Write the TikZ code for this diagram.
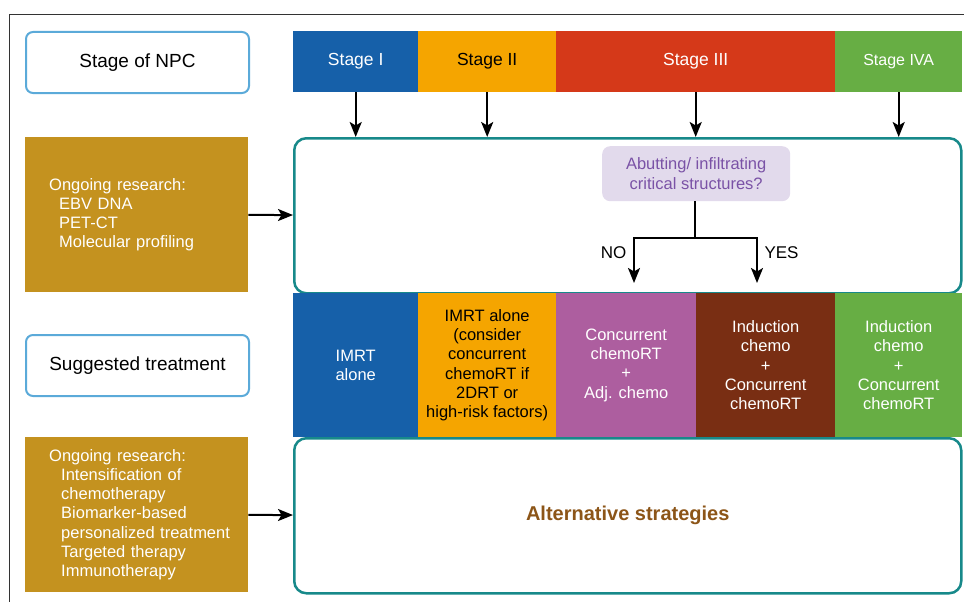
\documentclass[tikz,border=0pt]{standalone}
\usepackage{fontspec}
\setmainfont{Liberation Sans}
\setsansfont{Liberation Sans}
\usetikzlibrary{arrows.meta,positioning}

\definecolor{stageone}{HTML}{1660A9}
\definecolor{stagetwo}{HTML}{F5A500}
\definecolor{stagethree}{HTML}{D53919}
\definecolor{stagefour}{HTML}{67AE44}
\definecolor{adjpurple}{HTML}{AD5E9F}
\definecolor{inducbrown}{HTML}{792E13}
\definecolor{research}{HTML}{C4921F}
\definecolor{teal}{HTML}{17898A}
\definecolor{skyline}{HTML}{5BAAD9}
\definecolor{lavender}{HTML}{E2DAEC}
\definecolor{questext}{HTML}{7A52A6}
\definecolor{altbrown}{HTML}{8C5518}

\begin{document}
\begin{tikzpicture}
[ x=1pt, y=-1pt, font=\sffamily
, block/.style={rectangle, inner sep=0pt, anchor=north west, align=center, minimum height=61pt}
, sidebox/.style={block, draw=skyline, line width=2pt, rounded corners=7pt, minimum width=223pt, font=\fontsize{19}{22}\selectfont}
, stage/.style={block, text=white, font=\fontsize{17.5}{20}\selectfont}
, treat/.style={block, text=white, minimum height=144pt, font=\fontsize{16.5}{19.2}\selectfont}
, research/.style={block, fill=research, text=white, minimum width=223pt, minimum height=155pt, text width=199pt, inner xsep=12pt, align=left, font=\fontsize{16.5}{19.3}\selectfont}
, panel/.style={block, draw=teal, line width=2.5pt, rounded corners=12pt, minimum width=667pt, minimum height=155pt}
, arrow/.style={-{Stealth[length=15pt, width=12pt, inset=3.5pt]}, line width=2pt}
, branch/.style={font=\fontsize{17}{20}\selectfont}
]
\useasboundingbox (0,0) rectangle (964,602);
\draw [line width=1pt, black!80] (9,602) -- (9,15) -- (964,15);

% Left column:
\node (npc) [sidebox] at (25,31) {Stage of NPC};
\node (res1) [research] at (25,137) {\hspace*{12pt}Ongoing research:\\
  \hspace*{22pt}EBV DNA\\
  \hspace*{22pt}PET-CT\\
  \hspace*{22pt}Molecular profiling};
\node (sugg) [sidebox] at (25,334) {Suggested treatment};
\node (res2) [research] at (25,437) {\hspace*{12pt}Ongoing research:\\
  \hspace*{24pt}Intensification of\\
  \hspace*{24pt}chemotherapy\\
  \hspace*{24pt}Biomarker-based\\
  \hspace*{24pt}personalized treatment\\
  \hspace*{24pt}Targeted therapy\\
  \hspace*{24pt}Immunotherapy};

% Panels:
\node (upper) [panel] at (293,137) {};
\node (lower) [panel, text=altbrown, font=\bfseries\fontsize{20}{24}\selectfont] at (293,437) {Alternative strategies};

% Stages:
\node (s1) [stage, fill=stageone, minimum width=125pt] at (293,31) {Stage I};
\node (s2) [stage, fill=stagetwo, text=black, minimum width=138pt] at (418,31) {Stage II};
\node (s3) [stage, fill=stagethree, minimum width=279pt] at (556,31) {Stage III};
\node (s4) [stage, fill=stagefour, minimum width=127pt, font=\fontsize{16}{19}\selectfont] at (835,31) {Stage IVA};

% Treatments:
\node (t1) [treat, fill=stageone, minimum width=125pt] at (293,293) {IMRT\\alone};
\node (t2) [treat, fill=stagetwo, text=black, minimum width=138pt] at (418,293) {IMRT alone\\(consider\\concurrent\\chemoRT if\\2DRT or\\high-risk factors)};
\node (t3) [treat, fill=adjpurple, minimum width=140pt] at (556,293) {Concurrent\\chemoRT\\+\\Adj. chemo};
\node (t4) [treat, fill=inducbrown, minimum width=139pt] at (696,293) {Induction\\chemo\\+\\Concurrent\\chemoRT};
\node (t5) [treat, fill=stagefour, minimum width=127pt] at (835,293) {Induction\\chemo\\+\\Concurrent\\chemoRT};

% Question:
\node (quest) [block, fill=lavender, text=questext, rounded corners=8pt, minimum width=188pt, minimum height=55pt, font=\fontsize{16.5}{19.5}\selectfont] at (602,146) {Abutting/ infiltrating\\critical structures?};
\coordinate (fork) at (695,238);
\coordinate (noend) at (634,283);
\coordinate (yesend) at (757,283);
\node (no) [branch, left=4pt of noend, yshift=30pt] {NO};
\node (yes) [branch, right=4pt of yesend, yshift=30pt] {YES};

\foreach \s in {s1,s2,s3,s4}
  \draw [arrow] (\s.south) -- (\s.south |- upper.north);
\draw [arrow] (res1) -- (upper);
\draw [arrow] (res2) -- (lower);
\draw [arrow] (quest.south -| fork) -- (fork) -| (noend);
\draw [arrow] (fork) -| (yesend);
\end{tikzpicture}
\end{document}
